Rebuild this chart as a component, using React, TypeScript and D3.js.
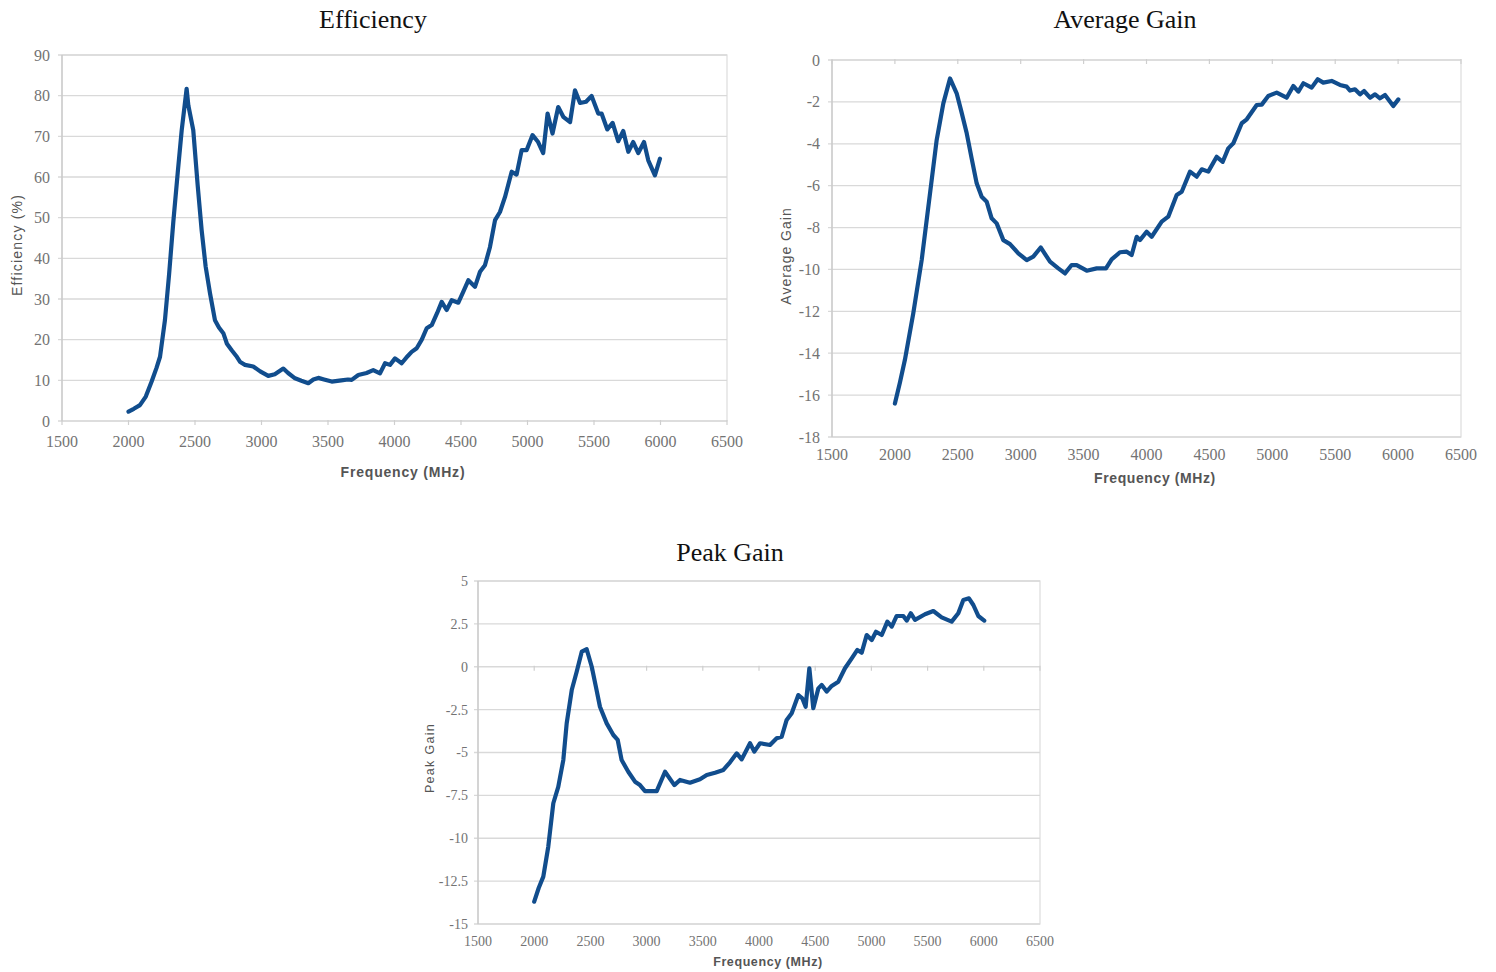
import * as d3 from "d3";
import { useEffect, useRef } from "react";

// frequency (MHz) tick labels shared by all three panels
const freqTicks = [1500, 2000, 2500, 3000, 3500, 4000, 4500, 5000, 5500, 6000, 6500];
const effTicks = [0, 10, 20, 30, 40, 50, 60, 70, 80, 90];
const avgTicks = [0, -2, -4, -6, -8, -10, -12, -14, -16, -18];
const peakTicks = [5, 2.5, 0, -2.5, -5, -7.5, -10, -12.5, -15];

// Efficiency (%)
const effFreq = [
  2000, 2040, 2086, 2130, 2174, 2210, 2237, 2274, 2305, 2337, 2370, 2400, 2437, 2450, 2487, 2520,
  2550, 2580, 2613, 2650, 2680, 2713, 2740, 2776, 2810, 2840, 2876, 2938, 2990, 3051, 3100, 3164,
  3200, 3252, 3300, 3352, 3390, 3427, 3470, 3528, 3600, 3650, 3678, 3728, 3790, 3840, 3891, 3929,
  3966, 4004, 4054, 4100, 4129, 4167, 4205, 4242, 4280, 4320, 4355, 4392, 4430, 4480, 4520, 4555,
  4605, 4643, 4680, 4718, 4756, 4793, 4831, 4881, 4918, 4956, 4993, 5038, 5080, 5118, 5151, 5188,
  5231, 5269, 5320, 5357, 5395, 5440, 5482, 5532, 5557, 5600, 5640, 5682, 5720, 5758, 5795, 5833,
  5876, 5908, 5958, 5996,
];
const effVal = [
  2.3, 3.0, 3.9, 6.0, 9.7, 13, 15.8, 24.8, 36, 49, 61, 71.5, 81.7, 77.6, 71.5, 58,
  46.9, 38, 31.4, 24.8, 23, 21.6, 19, 17.4, 16, 14.5, 13.8, 13.4, 12.2, 11.1, 11.5, 12.9,
  11.8, 10.5, 9.9, 9.3, 10.2, 10.6, 10.2, 9.7, 10.0, 10.2, 10.1, 11.3, 11.8, 12.5, 11.7, 14.2,
  13.8, 15.4, 14.2, 16, 17.0, 17.9, 20, 22.8, 23.6, 26.5, 29.3, 27.3, 29.7, 29.1, 32, 34.6,
  33.0, 36.7, 38.3, 42.8, 49.4, 51.4, 55.1, 61.3, 60.6, 66.6, 66.6, 70.3, 68.6, 65.9, 75.6, 70.7,
  77.2, 74.8, 73.5, 81.3, 78.2, 78.5, 79.9, 75.6, 75.6, 71.7, 73.3, 68.8, 71.3, 66.2, 68.6, 65.9,
  68.6, 64.1, 60.4, 64.5,
];

// Average Gain
const avgFreq = [
  2000, 2040, 2080, 2146, 2213, 2279, 2332, 2385, 2438, 2491, 2530, 2571, 2610, 2650, 2690, 2730,
  2769, 2809, 2862, 2915, 2981, 3048, 3100, 3159, 3233, 3299, 3352, 3405, 3445, 3525, 3604, 3678,
  3723, 3789, 3843, 3882, 3922, 3948, 4001, 4041, 4121, 4173, 4240, 4280, 4346, 4399, 4439, 4491,
  4558, 4606, 4650, 4690, 4757, 4797, 4876, 4916, 4968, 5035, 5114, 5167, 5207, 5247, 5313, 5361,
  5405, 5472, 5538, 5591, 5618, 5657, 5697, 5729, 5777, 5817, 5856, 5896, 5962, 6002,
];
const avgVal = [
  -16.4, -15.4, -14.3, -12.1, -9.55, -6.37, -3.82, -2.07, -0.88, -1.59, -2.5, -3.5, -4.7, -5.89, -6.53, -6.77,
  -7.56, -7.8, -8.6, -8.79, -9.23, -9.55, -9.39, -8.95, -9.63, -9.95, -10.19, -9.79, -9.79, -10.06, -9.95, -9.95,
  -9.52, -9.18, -9.15, -9.31, -8.44, -8.6, -8.2, -8.44, -7.72, -7.48, -6.45, -6.29, -5.33, -5.57, -5.22, -5.33,
  -4.62, -4.86, -4.22, -3.98, -3.02, -2.83, -2.15, -2.13, -1.72, -1.56, -1.8, -1.24, -1.51, -1.11, -1.32, -0.92,
  -1.08, -1.0, -1.19, -1.27, -1.46, -1.4, -1.64, -1.48, -1.8, -1.64, -1.83, -1.67, -2.2, -1.88,
];

// Peak Gain
const peakFreq = [
  2000, 2040, 2081, 2125, 2170, 2214, 2259, 2289, 2334, 2378, 2423, 2467, 2512, 2550, 2585, 2645,
  2704, 2743, 2778, 2837, 2897, 2941, 2986, 3090, 3164, 3247, 3297, 3386, 3475, 3535, 3609, 3683,
  3742, 3802, 3846, 3920, 3958, 4009, 4098, 4157, 4202, 4246, 4291, 4350, 4385, 4415, 4448, 4483,
  4528, 4558, 4602, 4647, 4706, 4765, 4825, 4875, 4914, 4958, 5003, 5041, 5092, 5142, 5181, 5225,
  5284, 5314, 5350, 5388, 5477, 5551, 5625, 5714, 5773, 5818, 5868, 5907, 5951, 6004,
];
const peakVal = [
  -13.7, -12.9, -12.24, -10.5, -7.96, -7.0, -5.44, -3.3, -1.36, -0.29, 0.88, 1.02, 0.0, -1.2, -2.33, -3.3,
  -3.98, -4.27, -5.44, -6.12, -6.7, -6.9, -7.25, -7.25, -6.12, -6.9, -6.6, -6.76, -6.56, -6.31, -6.18, -6.02,
  -5.57, -5.05, -5.4, -4.46, -4.95, -4.46, -4.56, -4.17, -4.08, -3.1, -2.71, -1.65, -1.84, -2.33, -0.09, -2.42,
  -1.26, -1.06, -1.45, -1.12, -0.87, -0.09, 0.49, 0.98, 0.82, 1.85, 1.56, 2.04, 1.85, 2.63, 2.34, 2.96,
  2.96, 2.69, 3.12, 2.73, 3.06, 3.25, 2.88, 2.63, 3.12, 3.89, 3.99, 3.6, 2.96, 2.69,
];

const LINE = "#114d8d";

function drawPanel(svg, p) {
  const lo = d3.min(p.yTicks);
  const hi = d3.max(p.yTicks);
  const x = d3.scaleLinear().domain([1500, 6500]).range([p.left, p.right]);
  const y = d3.scaleLinear().domain([lo, hi]).range([p.bottom, p.top]);

  const g = svg.append("g");

  // frame
  g.append("rect")
    .attr("x", p.left).attr("y", p.top)
    .attr("width", p.right - p.left).attr("height", p.bottom - p.top)
    .attr("fill", "none").attr("stroke", "#dcdcdc").attr("stroke-width", 1.2);

  // horizontal grid + left ticks
  g.selectAll(".grid")
    .data(p.yTicks)
    .enter()
    .append("line")
    .attr("x1", p.left - 4).attr("x2", p.right)
    .attr("y1", (d) => y(d)).attr("y2", (d) => y(d))
    .attr("stroke", "#d9d9d9").attr("stroke-width", 1.3);

  g.append("line")
    .attr("x1", p.left).attr("x2", p.left)
    .attr("y1", p.top).attr("y2", p.bottom)
    .attr("stroke", "#c8c8c8").attr("stroke-width", 1.3);

  // x ticks sit on the zero line
  const y0 = y(0);
  g.selectAll(".xt")
    .data(freqTicks)
    .enter()
    .append("line")
    .attr("x1", (d) => x(d)).attr("x2", (d) => x(d))
    .attr("y1", y0 - 1).attr("y2", y0 + 4)
    .attr("stroke", "#cfcfcf").attr("stroke-width", 1.2);

  // tick labels
  g.selectAll(".yl")
    .data(p.yTicks)
    .enter()
    .append("text")
    .attr("x", p.left - p.yGap)
    .attr("y", (d) => y(d) + p.tickSize * 0.35)
    .attr("text-anchor", "end")
    .attr("font-family", "'Liberation Serif', serif")
    .attr("font-size", p.tickSize)
    .attr("fill", "#737373")
    .text((d) => String(d));

  g.selectAll(".xl")
    .data(freqTicks)
    .enter()
    .append("text")
    .attr("x", (d) => x(d))
    .attr("y", p.bottom + p.xGap)
    .attr("text-anchor", "middle")
    .attr("font-family", "'Liberation Serif', serif")
    .attr("font-size", p.tickSize)
    .attr("fill", "#737373")
    .text((d) => String(d));

  // axis titles
  g.append("text")
    .attr("x", p.xTitleX).attr("y", p.xTitleY)
    .attr("text-anchor", "middle")
    .attr("font-family", "'Liberation Sans', Arial, sans-serif")
    .attr("font-size", p.axisSize)
    .attr("font-weight", "bold")
    .attr("letter-spacing", p.axisSpacing)
    .attr("fill", "#555")
    .text("Frequency (MHz)");

  g.append("text")
    .attr("transform", `translate(${p.yTitleX},${p.yTitleY}) rotate(-90)`)
    .attr("text-anchor", "middle")
    .attr("font-family", "'Liberation Sans', Arial, sans-serif")
    .attr("font-size", p.yTitleSize)
    .attr("letter-spacing", p.yTitleSpacing)
    .attr("fill", "#555")
    .text(p.yTitle);

  // chart title
  g.append("text")
    .attr("x", p.titleX).attr("y", p.titleY)
    .attr("text-anchor", "middle")
    .attr("font-family", "'Liberation Serif', 'Times New Roman', serif")
    .attr("font-size", 26)
    .attr("fill", "#111")
    .text(p.title);

  const pts = p.freq.map((f, i) => [f, p.vals[i]]);
  const line = d3.line().x((d) => x(d[0])).y((d) => y(d[1]));
  g.append("path")
    .attr("d", line(pts))
    .attr("fill", "none")
    .attr("stroke", LINE)
    .attr("stroke-width", 4.2)
    .attr("stroke-linejoin", "round")
    .attr("stroke-linecap", "round");
}

export default function App() {
  const ref = useRef(null);

  useEffect(() => {
    const svg = d3.select(ref.current);
    svg.selectAll("*").remove();

    drawPanel(svg, {
      left: 62, right: 727, top: 55, bottom: 421,
      yTicks: effTicks, freq: effFreq, vals: effVal,
      tickSize: 16, yGap: 12, xGap: 26,
      axisSize: 14, axisSpacing: 0.8, xTitleX: 403, xTitleY: 477,
      yTitle: "Efficiency (%)", yTitleSize: 14, yTitleSpacing: 1.2, yTitleX: 22, yTitleY: 245,
      title: "Efficiency", titleX: 373, titleY: 28,
    });

    drawPanel(svg, {
      left: 832, right: 1461, top: 60, bottom: 437,
      yTicks: avgTicks, freq: avgFreq, vals: avgVal,
      tickSize: 16, yGap: 12, xGap: 23,
      axisSize: 14, axisSpacing: 0.6, xTitleX: 1155, xTitleY: 483,
      yTitle: "Average Gain", yTitleSize: 14, yTitleSpacing: 1, yTitleX: 791, yTitleY: 256,
      title: "Average Gain", titleX: 1125, titleY: 28,
    });

    drawPanel(svg, {
      left: 478, right: 1040, top: 581, bottom: 924,
      yTicks: peakTicks, freq: peakFreq, vals: peakVal,
      tickSize: 14, yGap: 10, xGap: 22,
      axisSize: 12.5, axisSpacing: 0.6, xTitleX: 768, xTitleY: 966,
      yTitle: "Peak Gain", yTitleSize: 12.5, yTitleSpacing: 1.3, yTitleX: 434, yTitleY: 758,
      title: "Peak Gain", titleX: 730, titleY: 561,
    });
  }, []);

  return (
    <div style={{ position: "absolute", left: 0, top: 0, background: "#fff" }}>
      <svg ref={ref} width={1496} height={972} />
    </div>
  );
}
